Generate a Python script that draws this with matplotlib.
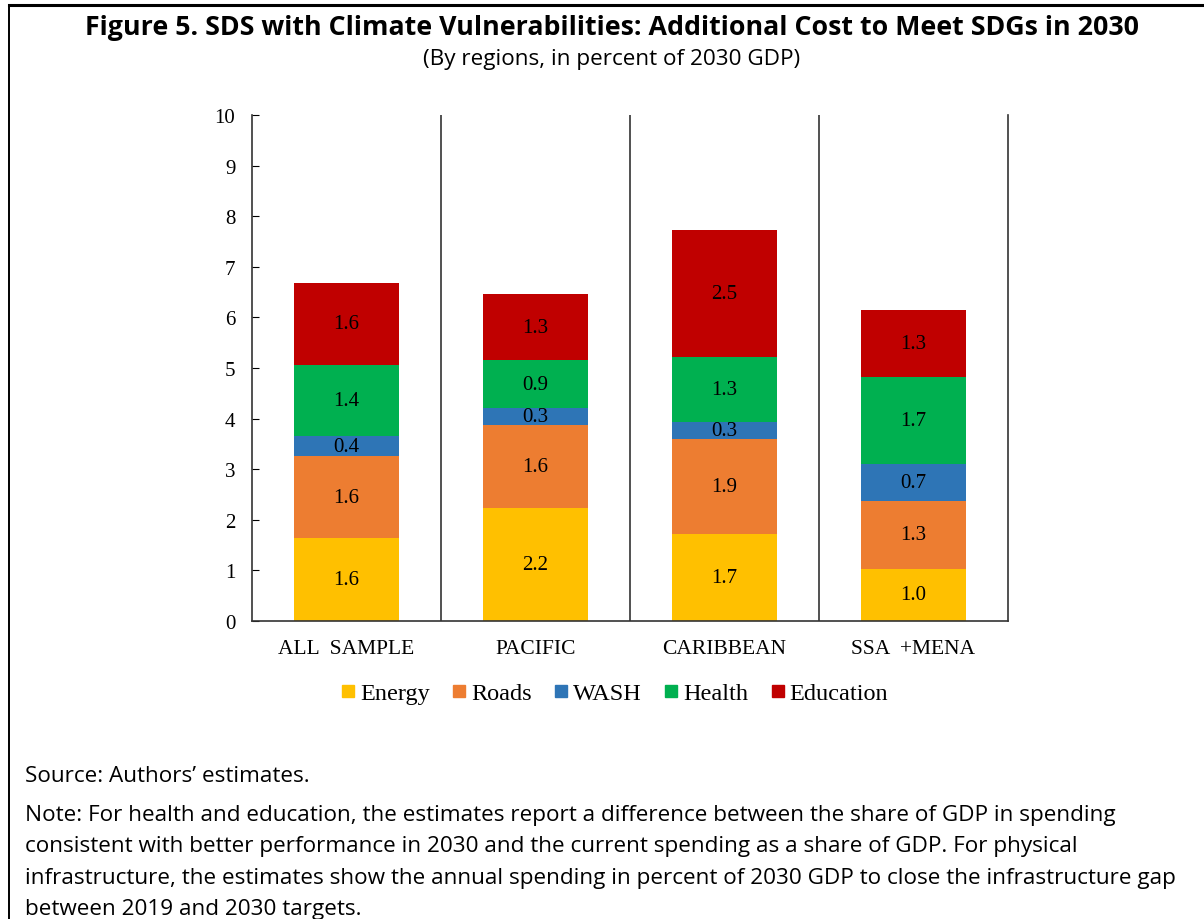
import matplotlib.pyplot as plt
import numpy as np
from matplotlib.lines import Line2D

REGIONS = ["ALL  SAMPLE", "PACIFIC", "CARIBBEAN", "SSA  +MENA"]
SECTORS = ["Energy", "Roads", "WASH", "Health", "Education"]
COLORS = ["#FFC000", "#ED7D31", "#2E75B6", "#00B050", "#C00000"]

ENERGY = [1.64, 2.24, 1.72, 1.03]
ROADS = [1.62, 1.64, 1.88, 1.34]
WASH = [0.39, 0.33, 0.34, 0.74]
HEALTH = [1.41, 0.94, 1.28, 1.71]
EDUCATION = [1.62, 1.32, 2.50, 1.33]

SERIES = [ENERGY, ROADS, WASH, HEALTH, EDUCATION]

SERIF = "Liberation Serif"
SANS = "Open Sans"


def main():
    fig = plt.figure(figsize=(12.04, 9.2), dpi=100)
    ax = fig.add_axes([0.2093, 0.3239, 0.6279, 0.55])

    x = np.arange(len(REGIONS))
    bottom = np.zeros(len(REGIONS))
    for name, vals, color in zip(SECTORS, SERIES, COLORS):
        vals = np.array(vals)
        ax.bar(x, vals, width=0.556, bottom=bottom, color=color, label=name,
               zorder=2)
        for xi, b, v in zip(x, bottom, vals):
            ax.text(xi, b + v / 2, f"{v:.1f}", ha="center", va="center",
                    fontsize=15, family=SERIF, color="black", zorder=3)
        bottom += vals

    ax.set_xlim(-0.5, len(REGIONS) - 0.5)
    ax.set_ylim(0, 10)
    ax.set_yticks(range(0, 11))
    ax.tick_params(axis="y", direction="in", length=5, labelsize=15,
                   pad=12)
    ax.set_xticks(x, REGIONS)
    ax.tick_params(axis="x", length=0, labelsize=15.5, pad=13)
    for lab in ax.get_xticklabels() + ax.get_yticklabels():
        lab.set_family(SERIF)
    ax.spines["top"].set_visible(False)
    for s in ("left", "right", "bottom"):
        ax.spines[s].set_color("#333333")
        ax.spines[s].set_linewidth(1.2)
    for sep in x[:-1] + 0.5:
        ax.axvline(sep, color="#333333", lw=1.2, zorder=1)

    handles = [Line2D([], [], marker="s", ls="", color=c, markersize=8.5)
               for c in COLORS]
    fig.legend(handles, SECTORS, loc="center", bbox_to_anchor=(0.511, 0.2455),
               ncol=5, frameon=False, handlelength=0.5, handletextpad=0.25,
               columnspacing=0.95, prop={"family": SERIF, "size": 17.5})

    fig.text(0.508, 0.970, "Figure 5. SDS with Climate Vulnerabilities: "
             "Additional Cost to Meet SDGs in 2030", ha="center", va="center",
             fontsize=19.3, weight="bold", family=SANS)
    fig.text(0.508, 0.935, "(By regions, in percent of 2030 GDP)",
             ha="center", va="center", fontsize=16.2, family=SANS)

    fig.text(0.021, 0.156, "Source: Authors\u2019 estimates.", ha="left",
             va="center", fontsize=16.2, family=SANS)
    notes = [
        "Note: For health and education, the estimates report a difference "
        "between the share of GDP in spending",
        "consistent with better performance in 2030 and the current spending "
        "as a share of GDP. For physical",
        "infrastructure, the estimates show the annual spending in percent of "
        "2030 GDP to close the infrastructure gap",
        "between 2019 and 2030 targets.",
    ]
    for i, line in enumerate(notes):
        fig.text(0.021, 0.114 - i * 0.0343, line, ha="left", va="center",
                 fontsize=16.2, family=SANS)

    # box edges
    fig.add_artist(Line2D([0.0075, 1.0], [0.9935, 0.9935], color="black",
                          lw=2.2, transform=fig.transFigure))
    fig.add_artist(Line2D([0.0075, 0.0075], [0.0, 0.9935], color="black",
                          lw=1.4, transform=fig.transFigure))

    fig.savefig("out.png", dpi=100, facecolor="white")


if __name__ == "__main__":
    main()
